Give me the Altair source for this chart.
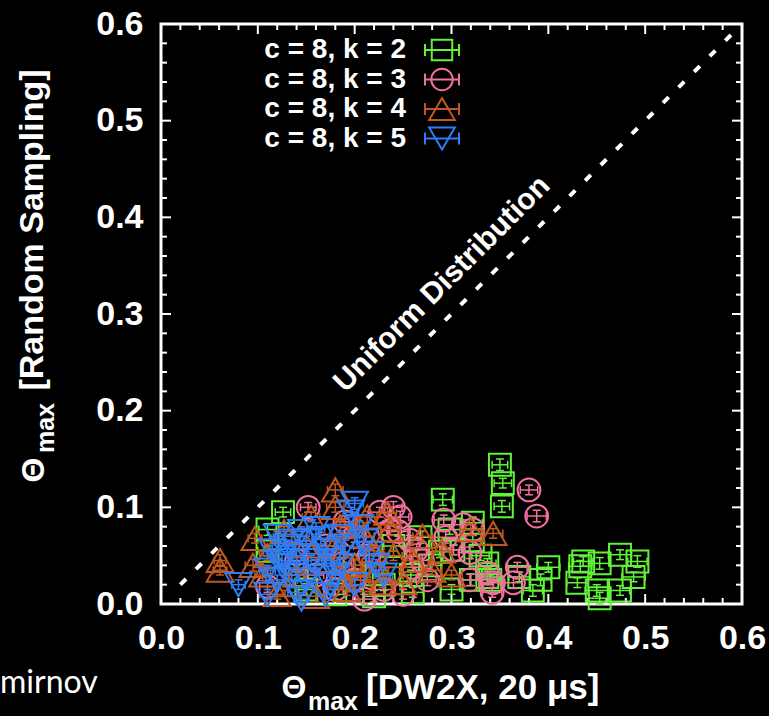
import altair as alt
import pandas as pd

# ---------------- data ----------------
series_labels = ["c = 8, k = 2", "c = 8, k = 3", "c = 8, k = 4", "c = 8, k = 5"]
series_colors = ["#62F23A", "#F2709C", "#C0581F", "#2F7DF5"]
series_shapes = ["square", "circle", "triangle-up", "triangle-down"]

k2_x = [0.350, 0.353, 0.352, 0.291, 0.298, 0.322, 0.322, 0.268, 0.302, 0.288, 0.330, 0.278, 0.258, 0.320, 0.340,
        0.400, 0.392, 0.337, 0.337, 0.370, 0.433, 0.436, 0.453, 0.474, 0.492, 0.430, 0.450, 0.474, 0.453, 0.488,
        0.384, 0.126, 0.110, 0.110, 0.140, 0.180, 0.220, 0.260, 0.200, 0.240, 0.150, 0.300, 0.230]
k2_y = [0.144, 0.125, 0.101, 0.108, 0.077, 0.084, 0.066, 0.069, 0.056, 0.054, 0.050, 0.040, 0.030, 0.025, 0.025,
        0.038, 0.025, 0.042, 0.028, 0.028, 0.039, 0.044, 0.042, 0.051, 0.044, 0.022, 0.014, 0.014, 0.006, 0.028,
        0.014, 0.095, 0.077, 0.055, 0.030, 0.010, 0.008, 0.012, 0.040, 0.060, 0.015, 0.015, 0.020]
k2_xerr = [0.008, 0.009, 0.008, 0.010, 0.012, 0.010, 0.009, 0.012, 0.010, 0.011, 0.009, 0.012, 0.010, 0.011, 0.010,
           0.012, 0.011, 0.009, 0.010, 0.011, 0.012, 0.010, 0.011, 0.012, 0.010, 0.011, 0.012, 0.010, 0.011, 0.012,
           0.010, 0.008, 0.009, 0.010, 0.008, 0.009, 0.010, 0.011, 0.009, 0.010, 0.008, 0.011, 0.009]
k2_yerr = [0.006, 0.005, 0.006, 0.006, 0.005, 0.006, 0.005, 0.006, 0.005, 0.006, 0.005, 0.006, 0.005, 0.006, 0.005,
           0.005, 0.006, 0.005, 0.006, 0.005, 0.006, 0.005, 0.006, 0.005, 0.006, 0.005, 0.006, 0.005, 0.006, 0.005,
           0.006, 0.005, 0.006, 0.005, 0.006, 0.005, 0.006, 0.005, 0.006, 0.005, 0.006, 0.005, 0.006]

k3_x = [0.380, 0.388, 0.152, 0.240, 0.226, 0.247, 0.292, 0.294, 0.312, 0.322, 0.302, 0.319, 0.257, 0.264, 0.236,
        0.319, 0.343, 0.275, 0.260, 0.337, 0.368, 0.364, 0.342, 0.110, 0.188, 0.200, 0.170, 0.215, 0.160, 0.230,
        0.140, 0.190, 0.250, 0.200, 0.245, 0.180, 0.210, 0.270]
k3_y = [0.118, 0.091, 0.100, 0.100, 0.095, 0.090, 0.087, 0.069, 0.082, 0.077, 0.056, 0.053, 0.066, 0.056, 0.076,
        0.025, 0.022, 0.025, 0.038, 0.032, 0.038, 0.022, 0.012, 0.018, 0.042, 0.025, 0.060, 0.050, 0.030, 0.015,
        0.045, 0.085, 0.010, 0.070, 0.075, 0.015, 0.005, 0.045]
k3_xerr = [0.009, 0.010, 0.008, 0.009, 0.010, 0.009, 0.010, 0.011, 0.010, 0.009, 0.010, 0.011, 0.009, 0.010, 0.009,
           0.010, 0.011, 0.009, 0.010, 0.011, 0.010, 0.009, 0.010, 0.008, 0.009, 0.010, 0.009, 0.010, 0.008, 0.009,
           0.008, 0.009, 0.010, 0.009, 0.010, 0.008, 0.009, 0.010]
k3_yerr = [0.005, 0.006, 0.005, 0.006, 0.005, 0.006, 0.005, 0.006, 0.005, 0.006, 0.005, 0.006, 0.005, 0.006, 0.005,
           0.006, 0.005, 0.006, 0.005, 0.006, 0.005, 0.006, 0.005, 0.006, 0.005, 0.006, 0.005, 0.006, 0.005, 0.006,
           0.005, 0.006, 0.005, 0.006, 0.005, 0.006, 0.005, 0.006]

k4_x = [0.180, 0.180, 0.185, 0.097, 0.061, 0.061, 0.095, 0.127, 0.213, 0.234, 0.237, 0.203, 0.150, 0.280, 0.320,
        0.343, 0.250, 0.206, 0.192, 0.229, 0.260, 0.140, 0.170, 0.120, 0.160, 0.220, 0.200, 0.110, 0.270, 0.155,
        0.130, 0.180, 0.210, 0.240, 0.105, 0.185, 0.225, 0.300, 0.290]
k4_y = [0.118, 0.100, 0.080, 0.068, 0.045, 0.035, 0.040, 0.075, 0.090, 0.094, 0.077, 0.081, 0.060, 0.035, 0.077,
        0.073, 0.022, 0.025, 0.015, 0.022, 0.045, 0.030, 0.045, 0.010, 0.008, 0.055, 0.040, 0.050, 0.070, 0.090,
        0.020, 0.060, 0.070, 0.050, 0.030, 0.030, 0.035, 0.030, 0.055]
k4_xerr = [0.008, 0.009, 0.008, 0.007, 0.006, 0.007, 0.008, 0.009, 0.010, 0.009, 0.010, 0.009, 0.008, 0.010, 0.011,
           0.010, 0.009, 0.010, 0.009, 0.010, 0.009, 0.008, 0.009, 0.008, 0.009, 0.010, 0.009, 0.008, 0.010, 0.009,
           0.008, 0.009, 0.010, 0.009, 0.008, 0.009, 0.010, 0.011, 0.010]
k4_yerr = [0.006, 0.005, 0.006, 0.005, 0.006, 0.005, 0.006, 0.005, 0.006, 0.005, 0.006, 0.005, 0.006, 0.005, 0.006,
           0.005, 0.006, 0.005, 0.006, 0.005, 0.006, 0.005, 0.006, 0.005, 0.006, 0.005, 0.006, 0.005, 0.006, 0.005,
           0.006, 0.005, 0.006, 0.005, 0.006, 0.005, 0.006, 0.005, 0.006]

k5_x = [0.080, 0.200, 0.196, 0.160, 0.150, 0.140, 0.125, 0.130, 0.170, 0.185, 0.215, 0.222, 0.180, 0.150, 0.120,
        0.140, 0.170, 0.200, 0.110, 0.160, 0.135, 0.190, 0.145, 0.125, 0.175, 0.205, 0.110,
        0.115, 0.135, 0.165, 0.155, 0.185, 0.210, 0.230, 0.145, 0.175, 0.120]
k5_y = [0.020, 0.104, 0.095, 0.078, 0.065, 0.050, 0.040, 0.060, 0.055, 0.040, 0.052, 0.040, 0.030, 0.025, 0.025,
        0.012, 0.010, 0.020, 0.035, 0.040, 0.030, 0.060, 0.075, 0.045, 0.020, 0.080, 0.010,
        0.055, 0.065, 0.068, 0.045, 0.070, 0.065, 0.030, 0.005, 0.045, 0.070]
k5_xerr = [0.007, 0.009, 0.008, 0.009, 0.008, 0.009, 0.008, 0.009, 0.008, 0.009, 0.010, 0.009, 0.008, 0.009, 0.008,
           0.009, 0.008, 0.009, 0.008, 0.009, 0.008, 0.009, 0.008, 0.009, 0.008, 0.009, 0.008,
           0.009, 0.008, 0.009, 0.008, 0.009, 0.008, 0.009, 0.008, 0.009, 0.008]
k5_yerr = [0.005, 0.006, 0.005, 0.006, 0.005, 0.006, 0.005, 0.006, 0.005, 0.006, 0.005, 0.006, 0.005, 0.006, 0.005,
           0.006, 0.005, 0.006, 0.005, 0.006, 0.005, 0.006, 0.005, 0.006, 0.005, 0.006, 0.005,
           0.006, 0.005, 0.006, 0.005, 0.006, 0.005, 0.006, 0.005, 0.006, 0.005]

diag_x = [0.02, 0.60]
diag_y = [0.02, 0.60]

tick_labels = [0.0, 0.1, 0.2, 0.3, 0.4, 0.5, 0.6]
minor_ticks = [0.02, 0.04, 0.06, 0.08, 0.12, 0.14, 0.16, 0.18, 0.22, 0.24, 0.26, 0.28,
               0.32, 0.34, 0.36, 0.38, 0.42, 0.44, 0.46, 0.48, 0.52, 0.54, 0.56, 0.58]
major_ticks = [0.1, 0.2, 0.3, 0.4, 0.5]

# ---------------- layout ----------------
W, H = 581, 580
FONT = "Liberation Sans"
marker_sizes = {"square": 480, "circle": 520, "triangle-up": 720, "triangle-down": 720}
xs = alt.Scale(domain=[0, 0.6], nice=False, zero=False)
ys = alt.Scale(domain=[0, 0.6], nice=False, zero=False)
XAX = alt.Axis(values=tick_labels, format=".1f", labelFont=FONT, labelFontSize=34, labelFontWeight="bold",
               labelColor="white", ticks=False, domain=False, grid=False, title=None, labelPadding=17,
               labelOverlap=False, labelFlush=False)
YAX = alt.Axis(values=tick_labels, format=".1f", labelFont=FONT, labelFontSize=34, labelFontWeight="bold",
               labelColor="white", ticks=False, domain=False, grid=False, title=None, labelPadding=18,
               labelOverlap=False, labelFlush=False)


def X(field):
    return alt.X(field, type="quantitative", scale=xs, axis=XAX)


def Y(field):
    return alt.Y(field, type="quantitative", scale=ys, axis=YAX)


layers = []

# tick marks (inward on all four sides)
for vals, ln in [(minor_ticks, 6), (major_ticks, 10)]:
    tdf = pd.DataFrame({"v": vals})
    base = alt.Chart(tdf)
    layers.append(base.mark_rule(color="white", strokeWidth=2).encode(
        x=X("v"), y=alt.value(H), y2=alt.value(H - ln)))
    layers.append(base.mark_rule(color="white", strokeWidth=2).encode(
        x=X("v"), y=alt.value(0), y2=alt.value(ln)))
    layers.append(base.mark_rule(color="white", strokeWidth=2).encode(
        y=Y("v"), x=alt.value(0), x2=alt.value(ln)))
    layers.append(base.mark_rule(color="white", strokeWidth=2).encode(
        y=Y("v"), x=alt.value(W), x2=alt.value(W - ln)))

# diagonal
ddf = pd.DataFrame({"x": diag_x, "y": diag_y})
layers.append(alt.Chart(ddf).mark_line(color="white", strokeWidth=4, strokeDash=[8, 14]).encode(
    x=X("x"), y=Y("y")))

# series
all_series = [(k2_x, k2_y, k2_xerr, k2_yerr), (k3_x, k3_y, k3_xerr, k3_yerr),
              (k4_x, k4_y, k4_xerr, k4_yerr), (k5_x, k5_y, k5_xerr, k5_yerr)]
for (sx, sy, sxe, sye), col, shp in zip(all_series, series_colors, series_shapes):
    df = pd.DataFrame({"x": sx, "y": sy, "xe": sxe, "ye": sye})
    df["xlo"] = df["x"] - df["xe"]
    df["xhi"] = df["x"] + df["xe"]
    df["ylo"] = df["y"] - df["ye"]
    df["yhi"] = df["y"] + df["ye"]
    capx = pd.DataFrame({"cx": list(df["xlo"]) + list(df["xhi"]), "cy": list(df["y"]) * 2})
    capy = pd.DataFrame({"cx": list(df["x"]) * 2, "cy": list(df["ylo"]) + list(df["yhi"])})
    c = alt.Chart(df)
    layers.append(c.mark_rule(color=col, strokeWidth=1.5).encode(x=X("xlo"), x2="xhi", y=Y("y")))
    layers.append(c.mark_rule(color=col, strokeWidth=1.5).encode(x=X("x"), y=Y("ylo"), y2="yhi"))
    layers.append(alt.Chart(capx).mark_rule(color=col, strokeWidth=1.5, yOffset=-4, y2Offset=4).encode(
        x=X("cx"), y=Y("cy"), y2="cy"))
    layers.append(alt.Chart(capy).mark_rule(color=col, strokeWidth=1.5, xOffset=-4, x2Offset=4).encode(
        x=X("cx"), x2="cx", y=Y("cy")))
    layers.append(c.mark_point(shape=shp, color=col, filled=False, strokeWidth=2, size=marker_sizes[shp],
                               opacity=1).encode(x=X("x"), y=Y("y")))

# legend (drawn manually: label left of the symbol)
leg_y0, leg_dy = 26, 29.5
for i, (lab, col, shp) in enumerate(zip(series_labels, series_colors, series_shapes)):
    yy = leg_y0 + i * leg_dy
    ldf = pd.DataFrame({"label": [lab]})
    lc = alt.Chart(ldf)
    layers.append(lc.mark_text(font=FONT, fontSize=28, fontWeight="bold", color="white", align="right",
                               baseline="middle").encode(text="label:N", x=alt.value(245), y=alt.value(yy)))
    layers.append(lc.mark_rule(color=col, strokeWidth=2).encode(
        x=alt.value(264), x2=alt.value(298), y=alt.value(yy)))
    layers.append(lc.mark_rule(color=col, strokeWidth=2).encode(
        x=alt.value(264), y=alt.value(yy - 6), y2=alt.value(yy + 6)))
    layers.append(lc.mark_rule(color=col, strokeWidth=2).encode(
        x=alt.value(298), y=alt.value(yy - 6), y2=alt.value(yy + 6)))
    layers.append(lc.mark_point(shape=shp, color=col, filled=False, strokeWidth=2, size=marker_sizes[shp] - 60,
                                opacity=1).encode(x=alt.value(281), y=alt.value(yy)))


# annotation and axis titles
def txt(s, x, y, size, angle=0, align="center", weight="bold", font=FONT, baseline="middle"):
    kw = dict(font=font, fontSize=size, fontWeight=weight, color="white", align=align, baseline=baseline)
    if angle:
        kw["angle"] = angle
    return alt.Chart(pd.DataFrame({"t": [s]})).mark_text(**kw).encode(
        text="t:N", x=alt.value(x), y=alt.value(y))


layers.append(txt("Uniform Distribution", 281, 260, 30, angle=315))
# x title
layers.append(txt("Θ", 133, 664, 32))
layers.append(txt("max", 172, 678, 25))
layers.append(txt("[DW2X, 20 μs]", 205, 664, 35, align="left"))
# y title
layers.append(txt("[Random Sampling]", -128, 206, 34, angle=270))
layers.append(txt("max", -115, 404, 25, angle=270))
layers.append(txt("Θ", -127, 446, 32, angle=270))
# watermark text from the slide
layers.append(txt("mirnov", -161, 659, 32, align="left", weight="normal", font="Lato"))

chart = alt.layer(*layers).properties(
    width=W, height=H,
    autosize=alt.AutoSizeParams(type="none"),
    padding={"left": 161, "top": 24, "right": 27, "bottom": 112},
).configure(background="black").configure_view(stroke="white", strokeWidth=3)

chart.save("out.html", embed_options={"renderer": "svg", "actions": False})
